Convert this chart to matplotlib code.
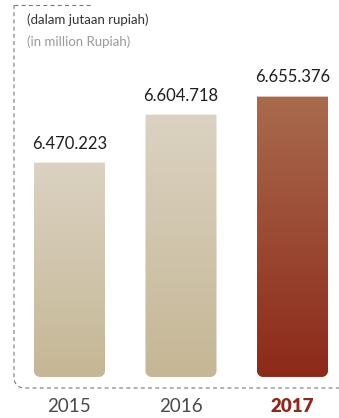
import matplotlib.pyplot as plt
import numpy as np
from matplotlib.path import Path
from matplotlib.patches import PathPatch
from matplotlib.lines import Line2D
from matplotlib.colors import LinearSegmentedColormap

years = ['2015', '2016', '2017']
values = [6470223, 6604718, 6655376]  # dalam jutaan rupiah
top_colors = ['#dbd2c2', '#dbd2c2', '#a96b4d']
bottom_colors = ['#c5b795', '#c5b795', '#8d2919']

W, H = 339, 418
YLO, YHI = 5755000, 6926000
XLO, XHI = -0.623, 2.417

fig = plt.figure(figsize=(W / 100, H / 100), dpi=100)
ax = fig.add_axes([0, 0, 1, 1])
ax.axis('off')

bar_w = 0.637
# corner radius in data units (about 6 px)
rx = 6 / (W / (XHI - XLO))
ry = 6 / (H / (YHI - YLO))
base = 5870000


def bar_path(x0, x1, y0, y1):
    k = 0.55
    verts = [
        (x0, y1), (x0, y0 + ry),
        (x0, y0 + ry * (1 - k)), (x0 + rx * (1 - k), y0), (x0 + rx, y0),
        (x1 - rx, y0),
        (x1 - rx * (1 - k), y0), (x1, y0 + ry * (1 - k)), (x1, y0 + ry),
        (x1, y1), (x0, y1),
    ]
    codes = [Path.MOVETO, Path.LINETO,
             Path.CURVE4, Path.CURVE4, Path.CURVE4,
             Path.LINETO,
             Path.CURVE4, Path.CURVE4, Path.CURVE4,
             Path.LINETO, Path.CLOSEPOLY]
    return Path(verts, codes)


for i, v in enumerate(values):
    x0, x1 = i - bar_w / 2, i + bar_w / 2
    patch = PathPatch(bar_path(x0, x1, base, v), facecolor='none', edgecolor='none')
    ax.add_patch(patch)
    cmap = LinearSegmentedColormap.from_list('g%d' % i, [bottom_colors[i], top_colors[i]])
    grad = np.linspace(0, 1, 256).reshape(-1, 1)
    im = ax.imshow(grad, cmap=cmap, origin='lower', aspect='auto',
                   extent=[x0, x1, base, v], interpolation='bicubic')
    im.set_clip_path(patch)
    label = f'{v:,}'.replace(',', '.')
    ax.annotate(label, (i, v), xytext=(0, 8), textcoords='offset points',
                ha='center', va='bottom', fontsize=12, color='#1e1e1e',
                family='Lato', fontweight='normal')

ax.set_xlim(XLO, XHI)
ax.set_ylim(YLO, YHI)

for i, y in enumerate(years):
    last = i == len(years) - 1
    ax.text(i, YLO + 11 / (H / (YHI - YLO)), y, ha='center', va='center',
            fontsize=13.5, family='Lato',
            fontweight='heavy' if last else 'normal',
            color='#8d2919' if last else '#4a4a4a')

# dashed frame around the chart
fx = lambda px: px / W
fy = lambda py: 1 - py / H
dash = dict(color='#777777', linewidth=0.8, linestyle=(0, (3.5, 3)), transform=fig.transFigure)
fig.add_artist(Line2D([fx(14), fx(93)], [fy(5), fy(5)], **dash))
t = np.linspace(0, np.pi / 2, 20)
cx, cy, r = 24, 378, 10
xs = [14] + list(cx - r * np.cos(t)) + [W]
ys = [5] + list(cy + r * np.sin(t)) + [388]
fig.add_artist(Line2D([fx(x) for x in xs], [fy(y) for y in ys], **dash))

fig.text(fx(27), fy(20), '(dalam jutaan rupiah)', fontsize=9.5, color='#333333',
         family='Lato', va='center')
fig.text(fx(27), fy(42), '(in million Rupiah)', fontsize=9.5, color='#9a9a9a',
         family='Lato', va='center')

fig.savefig('out.png', dpi=100)
